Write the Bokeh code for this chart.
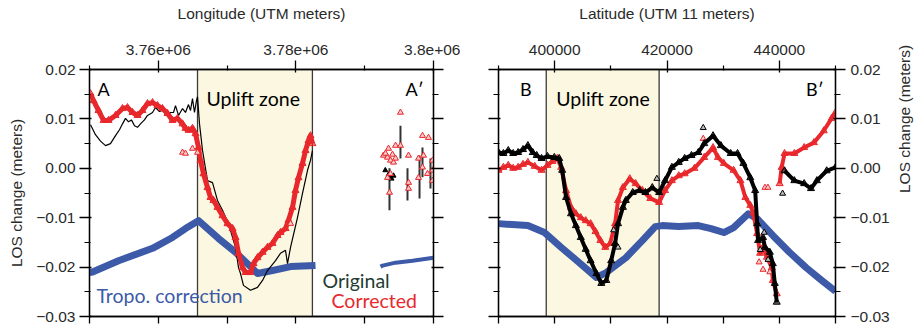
import json
import math
import numpy as np
from bokeh.plotting import figure
from bokeh.layouts import row
from bokeh.models import Range1d, LinearAxis, FixedTicker, CustomJSTickFormatter, Label, Title
from bokeh.embed import file_html
from bokeh.resources import INLINE

NaN = float("nan")

# ---------------- DATA: profile A-A' (longitude) ----------------
lon_ticks = [3760000, 3780000, 3800000]
lon_minor = [3750000, 3770000, 3790000]
lon_tick_labels = ["3.76e+06", "3.78e+06", "3.8e+06"]
lon_bottom_ticks = [3750000, 3760000, 3770000, 3780000, 3790000, 3800000]
uplift_a = [3765700, 3782400]

tropo_a_x = [3750000, 3750440, 3754220, 3759160, 3762060, 3763950, 3765840, 3768750, 3771220,
             3773690, 3774420, 3775150, 3776600, 3779220, 3782850]
tropo_a_y = [-0.0211, -0.0210, -0.0187, -0.0162, -0.0140, -0.0122, -0.0106, -0.0142, -0.0170,
             -0.0203, -0.0213, -0.0211, -0.0207, -0.0199, -0.0197]
tropo_a2_x = [3792300, 3792590, 3794480, 3796950, 3800000]
tropo_a2_y = [-0.0199, -0.0197, -0.0191, -0.0187, -0.0181]

orig_a_x = [3750150, 3750870, 3751600, 3752330, 3753050, 3753780, 3754360, 3754800, 3755230, 3755670,
            3756100, 3756540, 3756980, 3757410, 3757990, 3758430, 3759160, 3759590, 3760170, 3760610,
            3761190, 3761770, 3762210, 3762500, 3762940, 3763520, 3763950, 3764390, 3764680, 3764970,
            3765260, 3765550, 3765700, 3765990, 3766430, 3767150, 3767880, 3768600, 3769330, 3770200,
            3771220, 3771660, 3771950, 3772380, 3773400, 3774420, 3775150, 3775870, 3777040, 3777760,
            3778490, 3778780, 3779220, 3780230, 3780960, 3781690, 3782120, 3782410]
orig_a_y = [0.0088, 0.0068, 0.0055, 0.0046, 0.0050, 0.0066, 0.0078, 0.0090, 0.0101, 0.0094,
            0.0098, 0.0086, 0.0083, 0.0090, 0.0098, 0.0107, 0.0113, 0.0123, 0.0115, 0.0117,
            0.0108, 0.0113, 0.0113, 0.0127, 0.0107, 0.0121, 0.0113, 0.0129, 0.0117, 0.0141,
            0.0113, 0.0137, 0.0145, 0.0090, 0.0036, -0.0025, -0.0029, -0.0065, -0.0085, -0.0112,
            -0.0160, -0.0201, -0.0213, -0.0237, -0.0247, -0.0241, -0.0227, -0.0207, -0.0187, -0.0172,
            -0.0166, -0.0193, -0.0160, -0.0100, -0.0051, -0.0004, 0.0016, 0.0036]

# error bars of the original data near A'
orig_a_bar_x = [3793600, 3795200, 3796220, 3797970, 3798400, 3799560]
orig_a_bar_top = [0.0000, 0.0086, 0.0000, 0.0026, 0.0042, 0.0020]
orig_a_bar_bot = [-0.0085, 0.0020, -0.0065, -0.0061, -0.0018, -0.0041]
orig_a_pts_x = [3793460, 3793900, 3794190, 3793000]
orig_a_pts_y = [-0.0013, -0.0021, -0.0015, -0.0004]

corr_a_x = [3750150, 3750580, 3751310, 3752040, 3752760, 3753780, 3754800, 3755520, 3756250, 3756980,
            3757700, 3758430, 3759160, 3759880, 3760610, 3761340, 3762060, 3762790, 3763520, 3763950,
            3764390, 3764970, 3765410, 3765840, 3766130, 3766570, 3767150, 3767590, 3768020, 3768600,
            3769330, 3770060, 3770790, 3771220, 3771660, 3772240, 3772680, 3773400, 3773840, 3774420,
            3775150, 3775870, 3776600, 3777330, 3777760, 3778490, 3778930, 3779510, 3779940, 3780380,
            3780960, 3781400, 3781830, 3782120, 3782410]
corr_a_y = [0.0151, 0.0137, 0.0117, 0.0097, 0.0097, 0.0107, 0.0121, 0.0123, 0.0113, 0.0107,
            0.0117, 0.0131, 0.0133, 0.0127, 0.0121, 0.0111, 0.0097, 0.0101, 0.0090, 0.0081,
            0.0077, 0.0081, 0.0070, 0.0042, 0.0016, -0.0011, -0.0039, -0.0059, -0.0065, -0.0079,
            -0.0096, -0.0112, -0.0122, -0.0140, -0.0172, -0.0201, -0.0211, -0.0211, -0.0193, -0.0181,
            -0.0170, -0.0160, -0.0152, -0.0136, -0.0130, -0.0122, -0.0105, -0.0079, -0.0045, -0.0019,
            0.0010, 0.0036, 0.0056, 0.0066, 0.0050]
corr_a_iso_x = [3763520, 3763950, 3764970, 3765700, 3779220,
                3792730, 3793310, 3793460, 3793750, 3794190, 3793310, 3793750, 3793610, 3794480,
                3795200, 3795200, 3796370, 3796370, 3796370, 3797820, 3798400, 3798550, 3798400,
                3797820, 3799130, 3799270, 3799860, 3799860, 3799860, 3793020, 3794040, 3794480]
corr_a_iso_y = [0.0032, 0.0030, 0.0040, 0.0032, -0.0112,
                0.0026, 0.0022, 0.0040, 0.0016, 0.0012, -0.0019, -0.0011, -0.0049, 0.0046,
                0.0046, 0.0113, 0.0026, -0.0029, -0.0041, 0.0020, 0.0066, 0.0026, 0.0002,
                -0.0019, -0.0011, 0.0062, 0.0016, -0.0004, -0.0025, 0.0030, 0.0028, 0.0020]

# ---------------- DATA: profile B-B' (latitude) ----------------
lat_ticks = [400000, 420000, 440000]
lat_minor = [390000, 410000, 430000, 450000]
lat_tick_labels = ["400000", "420000", "440000"]
lat_bottom_ticks = [390000, 400000, 410000, 420000, 430000, 440000, 450000]
uplift_b = [398500, 418600]

tropo_b_x = [390000, 395230, 398200, 401160, 403950, 407440, 409190, 412670, 415640, 417910, 419130,
             422090, 425580, 427850, 430120, 431860, 434480, 436050, 438840, 441800, 444770,
             447560, 450000]
tropo_b_y = [-0.0112, -0.0116, -0.0130, -0.0160, -0.0187, -0.0221, -0.0211, -0.0181, -0.0146,
             -0.0118, -0.0116, -0.0118, -0.0116, -0.0122, -0.0130, -0.0120, -0.0092, -0.0102,
             -0.0136, -0.0170, -0.0201, -0.0227, -0.0249]

orig_b_x = [390000, 390870, 391740, 392620, 393490, 394360, 395230, 396100, 396800, 397670,
            398720, 399940, 400810, 401340, 402030, 402910, 403780, 404650, 405530, 406400,
            407440, 408310, 409190, 410060, 410760, 411280, 412150, 412670, 413900, 415120,
            416160, 417380, 418600, 419650, 420870, 422090, 423140, 424360, 425580, 426630,
            428200, 429590, 431340, 432560, 433600, 434830, 435700, 436050, 436220, 437090,
            437440, 438310, 438840, 439190, 439540, NaN,
            440930, 442670, 444420, 445640, 446690, 448430, 450000]
orig_b_y = [0.0032, 0.0030, 0.0036, 0.0030, 0.0032, 0.0038, 0.0046, 0.0032, 0.0026, 0.0020,
            0.0024, 0.0022, 0.0020, -0.0004, -0.0059, -0.0092, -0.0116, -0.0140, -0.0164, -0.0187,
            -0.0213, -0.0233, -0.0227, -0.0187, -0.0152, -0.0112, -0.0079, -0.0065, -0.0049, -0.0045,
            -0.0049, -0.0039, -0.0049, -0.0025, 0.0002, 0.0012, 0.0020, 0.0026, 0.0032, 0.0050,
            0.0066, 0.0046, 0.0030, 0.0030, 0.0010, -0.0019, -0.0045, -0.0112, -0.0146, -0.0140,
            -0.0160, -0.0170, -0.0193, -0.0233, -0.0271, NaN,
            -0.0005, -0.0025, -0.0031, -0.0041, -0.0025, -0.0005, 0.0002]
orig_b_iso_x = [426450, 411280, 410500, 440580, 436600, 437300, 438000, 418200]
orig_b_iso_y = [0.0082, -0.0160, -0.0125, -0.0051, -0.0165, -0.0130, -0.0185, -0.0021]

corr_b_x = [390000, 390870, 391740, 392620, 393490, 394360, 395230, 396450, 397670, 398720,
            399590, 400470, 401160, 402030, 402910, 403780, 404650, 405530, 406400, 407270,
            408140, 409010, 409880, 410760, 411280, 412150, 413370, 414420, 415640, 417030,
            418600, 419650, 420870, 422090, 423140, 424880, 426630, 428200, 429070, 430120,
            431860, 433080, 433950, 434830, 435350, 436050, 436570, 437090, 437790, 438660,
            438840, 439540, NaN,
            440060, 440410, 440930, 442670, 444420, 446160, 447910, 449300, 450000]
corr_b_y = [-0.0004, 0.0002, 0.0006, 0.0000, 0.0002, 0.0008, 0.0012, 0.0004, -0.0004, 0.0006,
            0.0014, 0.0020, 0.0002, -0.0045, -0.0079, -0.0092, -0.0100, -0.0106, -0.0112, -0.0128,
            -0.0146, -0.0160, -0.0152, -0.0112, -0.0065, -0.0039, -0.0021, -0.0031, -0.0045, -0.0061,
            -0.0069, -0.0045, -0.0025, -0.0015, -0.0011, 0.0000, 0.0022, 0.0042, 0.0022, 0.0010,
            -0.0004, -0.0025, -0.0059, -0.0075, -0.0090, -0.0132, -0.0172, -0.0160, -0.0180, -0.0201,
            -0.0227, -0.0254, NaN,
            -0.0031, 0.0002, 0.0030, 0.0030, 0.0042, 0.0052, 0.0076, 0.0101, 0.0113]
corr_b_iso_x = [437440, 437970, 426450, 436400, 437100, 437800, 438300]
corr_b_iso_y = [-0.0039, -0.0039, 0.0060, -0.0190, -0.0205, -0.0165, -0.0210]

y_ticks = [0.02, 0.01, 0.0, -0.01, -0.02, -0.03]
y_minor = [0.015, 0.005, -0.005, -0.015, -0.025]
y_tick_labels = ["0.02", "0.01", "0.00", "\u22120.01", "\u22120.02", "\u22120.03"]

# ---------------- STYLE ----------------
BLUE = "#3c5aa7"
RED = "#e8282c"
UPLIFT = "#fbf7e1"
TICK_FONT = "Liberation Sans"
ANN_FONT = "Lato"
TXT = "#2a2a2a"


def fmt(ticks, labels):
    code = ("const t = %s; const l = %s;"
            "for (let i = 0; i < t.length; i++) {"
            "  if (Math.abs(tick - t[i]) <= 1e-9 * Math.max(1, Math.abs(t[i]))) { return l[i]; }"
            "}"
            "return '';") % (json.dumps(ticks), json.dumps(labels))
    return CustomJSTickFormatter(code=code)


def blank():
    return CustomJSTickFormatter(code="return '';")


def axis(ticks, minor, formatter, major_out, minor_out, labelled, major_in=2, standoff=5):
    ax = LinearAxis(ticker=FixedTicker(ticks=ticks, minor_ticks=minor), formatter=formatter)
    ax.axis_line_color = "black"
    ax.axis_line_width = 1.3
    ax.major_tick_line_color = "black"
    ax.major_tick_line_width = 1.3
    ax.minor_tick_line_color = "black"
    ax.minor_tick_line_width = 1.2
    ax.major_tick_out = major_out
    ax.major_tick_in = major_in
    ax.minor_tick_out = minor_out
    ax.minor_tick_in = 1
    if labelled:
        ax.major_label_text_font = TICK_FONT
        ax.major_label_text_font_size = "15.5px"
        ax.major_label_text_color = TXT
        ax.major_label_standoff = standoff
    else:
        ax.major_label_text_font_size = "1px"
        ax.major_label_standoff = 0
    return ax


def make_fig(xr, width, mbl, mbr):
    p = figure(width=width, height=328, x_range=Range1d(*xr), y_range=Range1d(-0.03, 0.02),
               output_backend="svg", toolbar_location=None,
               x_axis_location=None, y_axis_location=None,
               min_border_left=mbl, min_border_right=mbr, min_border_top=69, min_border_bottom=12)
    p.grid.visible = False
    p.outline_line_color = "black"
    p.outline_line_width = 1.3
    p.background_fill_color = "white"
    p.border_fill_color = "white"
    return p


def ann(p, x, y, text, color="black", size="19px", align="left", font=ANN_FONT):
    p.add_layout(Label(x=x, y=y, text=text, text_color=color, text_font=font,
                       text_font_size=size, text_baseline="middle", text_align=align))


def head(p, text, offset):
    t = Title(text=text, align="center", offset=offset, text_font=TICK_FONT,
              text_font_size="15.5px", text_font_style="normal", text_color=TXT,
              standoff=0, padding=dict(left=0, right=0, top=0, bottom=20))
    p.add_layout(t, "above")


# ---------------- LEFT PANEL ----------------
p1 = make_fig((3750000, 3800000), 460, 89, 27)
p1.quad(left=[uplift_a[0]], right=[uplift_a[1]], top=[0.02], bottom=[-0.03],
        fill_color=UPLIFT, line_color="#3a3a3a", line_width=1.3)
p1.line(tropo_a_x, tropo_a_y, line_color=BLUE, line_width=7, line_join="round")
p1.line(tropo_a2_x, tropo_a2_y, line_color=BLUE, line_width=4, line_join="round")
p1.line(orig_a_x, orig_a_y, line_color="black", line_width=1.2)
p1.segment(x0=orig_a_bar_x, y0=orig_a_bar_top, x1=orig_a_bar_x, y1=orig_a_bar_bot,
           line_color="#333333", line_width=2)
p1.scatter(orig_a_pts_x, orig_a_pts_y, marker="triangle", size=5, line_color="black",
           fill_color="black")
p1.line(corr_a_x, corr_a_y, line_color=RED, line_width=5, line_join="round")
p1.scatter(corr_a_x, corr_a_y, marker="triangle", size=7, line_color=RED, fill_color=RED,
           fill_alpha=0.6)
p1.scatter(corr_a_iso_x, corr_a_iso_y, marker="triangle", size=6, line_color=RED,
           fill_color="#f7c9c9")

top1 = axis(lon_ticks, lon_minor, fmt(lon_ticks, lon_tick_labels), 9, 4, True, major_in=3, standoff=6)
bot1 = axis(lon_bottom_ticks, [], blank(), 7, 0, False, major_in=0)
left1 = axis(y_ticks, y_minor, fmt(y_ticks, y_tick_labels), 10, 5, True, major_in=2, standoff=4)
left1.axis_label = "LOS change (meters)"
left1.axis_label_text_font = TICK_FONT
left1.axis_label_text_font_size = "15.5px"
left1.axis_label_text_font_style = "normal"
left1.axis_label_text_color = TXT
left1.axis_label_standoff = 8
right1 = axis(y_ticks, y_minor, blank(), 10, 5, False)
p1.add_layout(top1, "above")
p1.add_layout(bot1, "below")
p1.add_layout(left1, "left")
p1.add_layout(right1, "right")
head(p1, "Longitude (UTM meters)", 19)

# pixel helpers for annotation placement (frame: x 89..433, y 69..316)
def ax_a(px):
    return 3750000 + (px - 89) * 50000 / 344.0

def ay(py):
    return 0.02 - (py - 69) * 0.05 / 247.0

ann(p1, ax_a(97), ay(88), "A", size="18px")
ann(p1, ax_a(405), ay(88), "A\u2032", size="18px")
ann(p1, ax_a(206), ay(98), "Uplift zone", size="19.5px")
ann(p1, ax_a(96), ay(295), "Tropo. correction", color=BLUE, size="19.5px")
ann(p1, ax_a(322), ay(280), "Original", color="#1f3d33", size="19.5px")
ann(p1, ax_a(331), ay(300), "Corrected", color=RED, size="19.5px")

# ---------------- RIGHT PANEL ----------------
p2 = make_fig((390000, 450000), 464, 38, 82)
p2.quad(left=[uplift_b[0]], right=[uplift_b[1]], top=[0.02], bottom=[-0.03],
        fill_color=UPLIFT, line_color="#3a3a3a", line_width=1.3)
p2.line(tropo_b_x, tropo_b_y, line_color=BLUE, line_width=7, line_join="round")
p2.line(corr_b_x, corr_b_y, line_color=RED, line_width=4, line_join="round")
p2.scatter(corr_b_x, corr_b_y, marker="triangle", size=7, line_color=RED, fill_color=RED,
           fill_alpha=0.6)
p2.scatter(corr_b_iso_x, corr_b_iso_y, marker="triangle", size=6, line_color=RED,
           fill_color="#f7c9c9")
p2.line(orig_b_x, orig_b_y, line_color="black", line_width=4, line_join="round")
p2.scatter(orig_b_x, orig_b_y, marker="triangle", size=7, line_color="black", fill_color="black",
           fill_alpha=0.6)
p2.scatter(orig_b_iso_x, orig_b_iso_y, marker="triangle", size=6, line_color="black",
           fill_color="#bbbbbb")

top2 = axis(lat_ticks, lat_minor, fmt(lat_ticks, lat_tick_labels), 9, 4, True, major_in=3, standoff=6)
bot2 = axis(lat_bottom_ticks, [], blank(), 7, 0, False, major_in=0)
left2 = axis(y_ticks, y_minor, blank(), 10, 5, False)
right2 = axis(y_ticks, y_minor, fmt(y_ticks, y_tick_labels), 10, 5, True, major_in=2, standoff=5)
right2.axis_label = "LOS change (meters)"
right2.axis_label_orientation = math.pi / 2
right2.axis_label_text_font = TICK_FONT
right2.axis_label_text_font_size = "15.5px"
right2.axis_label_text_font_style = "normal"
right2.axis_label_text_color = TXT
right2.axis_label_standoff = 12
p2.add_layout(top2, "above")
p2.add_layout(bot2, "below")
p2.add_layout(left2, "left")
p2.add_layout(right2, "right")
head(p2, "Latitude (UTM 11 meters)", 29)

def ax_b(px):
    return 390000 + (px - 498) * 60000 / 344.0

ann(p2, ax_b(520), ay(88), "B", size="18px")
ann(p2, ax_b(812), ay(88), "B\u2032", size="18px")
ann(p2, ax_b(557), ay(98), "Uplift zone", size="19.5px")

layout = row(p1, p2)
open("out.html", "w").write(file_html(layout, INLINE))
